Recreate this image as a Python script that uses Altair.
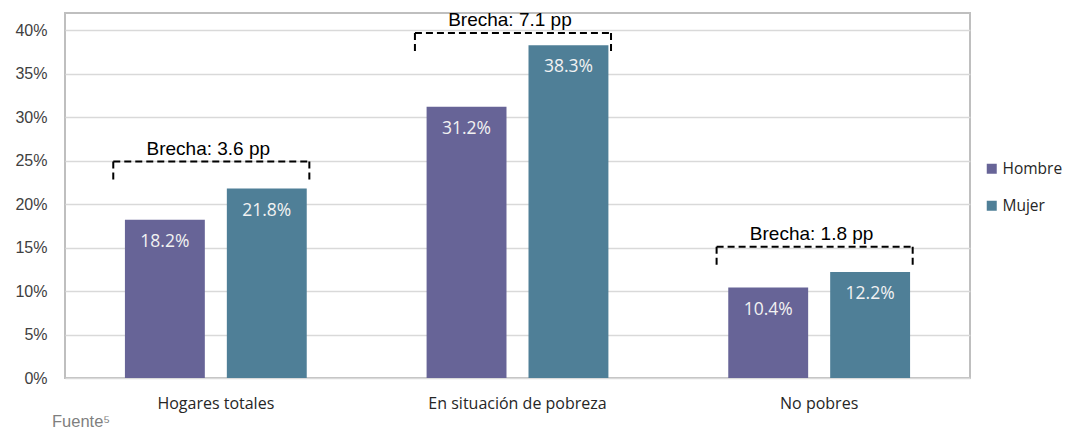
import altair as alt
import pandas as pd

categories = ["Hogares totales", "En situación de pobreza", "No pobres"]
series = ["Hombre", "Mujer"]
hombre = [18.2, 31.2, 10.4]
mujer = [21.8, 38.3, 12.2]
brecha = [3.6, 7.1, 1.8]
bracket_top = [24.9, 39.7, 15.1]
bracket_bottom = [22.4, 37.4, 12.8]
y_ticks = [0, 5, 10, 15, 20, 25, 30, 35, 40]
colors = ["#676497", "#4F7F97"]

rows = []
for i, c in enumerate(categories):
    rows.append({"cat": c, "serie": "Hombre", "val": hombre[i]})
    rows.append({"cat": c, "serie": "Mujer", "val": mujer[i]})
df = pd.DataFrame(rows)

br = pd.DataFrame({
    "idx": list(range(len(categories))),
    "top": bracket_top,
    "bottom": bracket_bottom,
    "label": [f"Brecha: {b} pp" for b in brecha],
})

yscale = alt.Scale(domain=[0, 42], nice=False, zero=True)

base = alt.Chart(df)
bars = base.mark_bar().encode(
    x=alt.X("cat:N", sort=categories,
            scale=alt.Scale(paddingInner=0, paddingOuter=0),
            axis=alt.Axis(title=None, labelAngle=0, domain=False, ticks=False,
                          labelPadding=17, labelFontSize=16, labelFont="Open Sans",
                          labelColor="#262626", grid=False)),
    xOffset=alt.XOffset("serie:N", sort=series,
                        scale=alt.Scale(paddingInner=0.216, paddingOuter=0.588)),
    y=alt.Y("val:Q", scale=yscale,
            axis=alt.Axis(title=None, values=y_ticks, labelExpr="datum.value + '%'",
                          domain=False, ticks=False, labelPadding=18, labelFontSize=16,
                          labelFont="Liberation Sans", labelColor="#404040",
                          grid=True, gridColor="#D9D9D9", gridWidth=1.5)),
    color=alt.Color("serie:N", sort=series,
                    scale=alt.Scale(domain=series, range=colors),
                    legend=alt.Legend(title=None, orient="none", legendX=919, legendY=148,
                                      symbolType="square", symbolSize=100,
                                      symbolStrokeWidth=0, labelFontSize=15.5,
                                      labelFont="Open Sans", labelColor="#262626",
                                      rowPadding=20, labelOffset=3)),
)

bar_labels = base.mark_text(color="#F2F2F2", fontSize=17.5, font="Open Sans",
                            baseline="middle", dy=22).encode(
    x=alt.X("cat:N", sort=categories),
    xOffset=alt.XOffset("serie:N", sort=series),
    y=alt.Y("val:Q", scale=yscale),
    text=alt.Text("label:N"),
).transform_calculate(label="format(datum.val, '.1f') + '%'")

bars_layer = alt.layer(bars, bar_labels)

xq = alt.Scale(domain=[0, len(categories)], nice=False, zero=False)
bbase = alt.Chart(br).transform_calculate(
    left="datum.idx + 0.16", right="datum.idx + 0.81", mid="datum.idx + 0.475"
)
dash = [7, 4]
hline = bbase.mark_rule(color="black", strokeDash=dash, strokeWidth=2).encode(
    x=alt.X("left:Q", scale=xq, axis=None), x2="right:Q",
    y=alt.Y("top:Q", scale=yscale))
vleft = bbase.mark_rule(color="black", strokeDash=dash, strokeWidth=2).encode(
    x=alt.X("left:Q", scale=xq, axis=None),
    y=alt.Y("top:Q", scale=yscale), y2="bottom:Q")
vright = bbase.mark_rule(color="black", strokeDash=dash, strokeWidth=2).encode(
    x=alt.X("right:Q", scale=xq, axis=None),
    y=alt.Y("top:Q", scale=yscale), y2="bottom:Q")
btext = bbase.mark_text(baseline="bottom", dy=-3, fontSize=19,
                        font="Liberation Sans", color="black").encode(
    x=alt.X("mid:Q", scale=xq, axis=None),
    y=alt.Y("top:Q", scale=yscale),
    text="label:N")

brackets = alt.layer(hline, vleft, vright, btext)

chart = alt.layer(bars_layer, brackets).resolve_scale(x="independent").properties(
    width=905, height=365,
    autosize=alt.AutoSizeParams(type="none"),
    padding={"left": 57, "top": 5, "right": 93, "bottom": 53},
    title=alt.TitleParams("Fuente⁵", orient="bottom", anchor="start", frame="group",
                          dx=-13, offset=3, fontSize=16.5, fontWeight="normal",
                          font="Liberation Sans", color="#7F7F7F"),
).configure_view(stroke="#BFBFBF", strokeWidth=2)

chart.save("out.html", embed_options={"renderer": "svg", "actions": False})
